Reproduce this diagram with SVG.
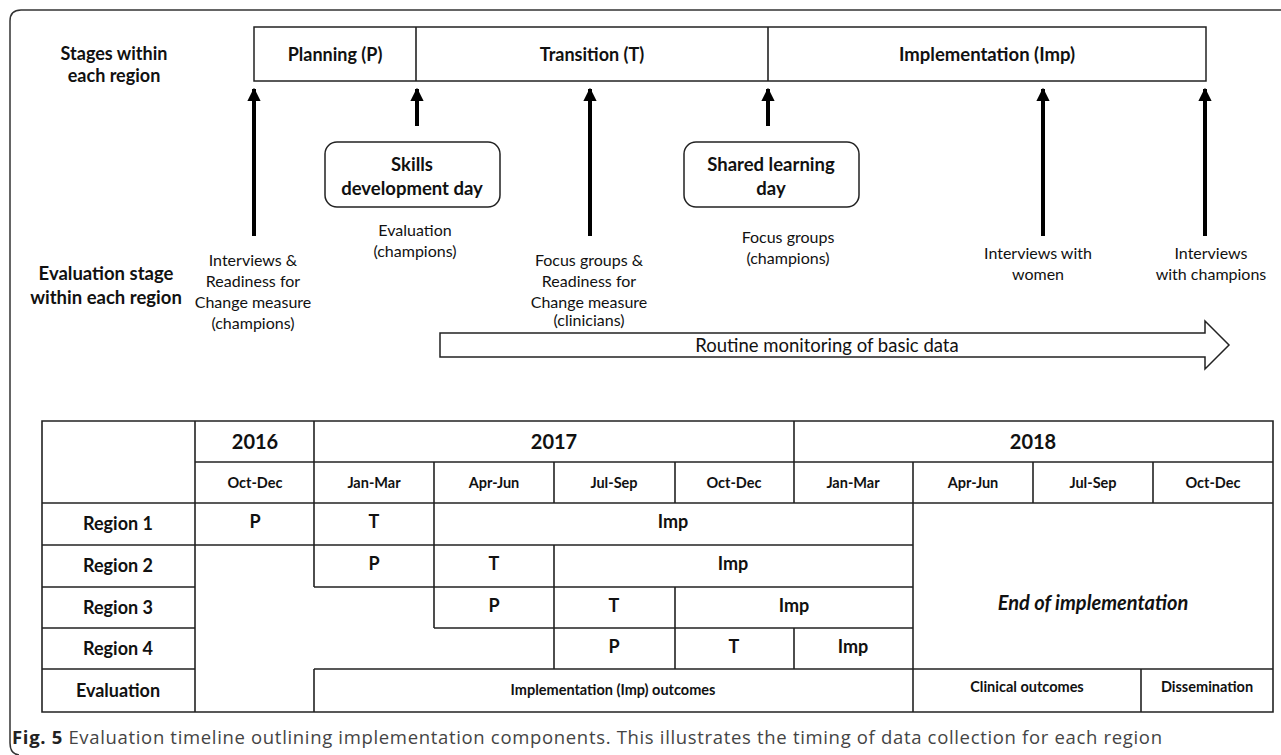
<svg xmlns="http://www.w3.org/2000/svg" width="1281" height="755" viewBox="0 0 1281 755">
<defs>
<style>
.frame{fill:none;stroke:#333;stroke-width:1.5}
.box{fill:#fff;stroke:#222;stroke-width:1.5}
.tl{stroke:#222;stroke-width:1.6;fill:none}
.arr{stroke:#000;stroke-width:4;fill:none;marker-end:url(#ah)}
.b{font-family:Lato,"Open Sans",sans-serif;font-weight:700;fill:#111;text-anchor:middle}
.r{font-family:Lato,"Open Sans",sans-serif;font-weight:400;fill:#111;text-anchor:middle}
.cap{font-family:"Open Sans","Noto Sans",sans-serif;font-size:18.5px;fill:#444}
</style>
<marker id="ah" viewBox="0 0 10 10" refX="9" refY="5" markerWidth="3.3" markerHeight="3.3" orient="auto" markerUnits="strokeWidth">
<path d="M0,0 L10,5 L0,10 Z" fill="#000"/>
</marker>
</defs>
<rect width="1281" height="755" fill="#fff"/>
<path class="frame" d="M1281,10 H21 Q10,10 10,21 V743 Q10,754 19,755"/>

<g id="stage-labels">
<text class="b" font-size="18" x="114" y="60">Stages within</text>
<text class="b" font-size="18" x="114" y="82">each  region</text>
<text class="b" font-size="18.5" x="106" y="280">Evaluation stage</text>
<text class="b" font-size="18.5" x="106" y="304">within each region</text>
</g>

<g id="stages-bar">
<rect class="box" x="254" y="27" width="952" height="54"/>
<line class="tl" x1="416" y1="27" x2="416" y2="81"/>
<line class="tl" x1="768" y1="27" x2="768" y2="81"/>
<text class="b" font-size="18" x="335" y="61">Planning (P)</text>
<text class="b" font-size="18" x="592" y="61">Transition (T)</text>
<text class="b" font-size="18.5" x="987" y="61">Implementation (Imp)</text>
</g>

<g id="skills-day">
<rect class="box" x="325" y="142" width="175" height="65" rx="12"/>
<text class="b" font-size="18.5" x="412" y="171">Skills</text>
<text class="b" font-size="18.5" x="412" y="195">development day</text>
</g>

<g id="shared-day">
<rect class="box" x="684" y="142" width="175" height="65" rx="12"/>
<text class="b" font-size="18.5" x="771" y="171">Shared learning</text>
<text class="b" font-size="18.5" x="771" y="195">day</text>
</g>

<g id="eval-labels">
<text class="r" font-size="16" x="415" y="236">Evaluation</text>
<text class="r" font-size="16" x="415" y="257">(champions)</text>
<text class="r" font-size="16" x="253" y="266">Interviews &amp;</text>
<text class="r" font-size="16" x="253" y="287">Readiness for</text>
<text class="r" font-size="16" x="253" y="308">Change measure</text>
<text class="r" font-size="16" x="253" y="329">(champions)</text>
<text class="r" font-size="16" x="589" y="266">Focus groups &amp;</text>
<text class="r" font-size="16" x="589" y="287">Readiness for</text>
<text class="r" font-size="16" x="589" y="308">Change measure</text>
<text class="r" font-size="16" x="589" y="326">(clinicians)</text>
<text class="r" font-size="16" x="788" y="243">Focus groups</text>
<text class="r" font-size="16" x="788" y="264">(champions)</text>
<text class="r" font-size="16" x="1038" y="259">Interviews with</text>
<text class="r" font-size="16" x="1038" y="280">women</text>
<text class="r" font-size="16" x="1211" y="259">Interviews</text>
<text class="r" font-size="16" x="1211" y="280">with champions</text>
</g>

<g id="routine-monitoring">
<path class="box" d="M440,333 H1205 V321 L1229,345 L1205,369 V357 H440 Z"/>
<text class="r" font-size="18.5" x="827" y="352">Routine monitoring of basic data</text>
</g>

<g id="connectors">
<line class="arr" x1="254" y1="236" x2="254" y2="89"/>
<line class="arr" x1="417" y1="126" x2="417" y2="89"/>
<line class="arr" x1="590" y1="236" x2="590" y2="89"/>
<line class="arr" x1="768" y1="126" x2="768" y2="89"/>
<line class="arr" x1="1043" y1="236" x2="1043" y2="89"/>
<line class="arr" x1="1205" y1="236" x2="1205" y2="89"/>
</g>

<g id="timeline-table">
<g class="tl">
<path d="M42,421 H1273 V712 H42 Z"/>
<path d="M195,462 H1273"/>
<path d="M42,503 H1273"/>
<path d="M42,545 H913"/>
<path d="M42,587 H195 M314,587 H913"/>
<path d="M42,628 H195 M434,628 H913"/>
<path d="M42,669 H195 M314,669 H1273"/>
<path d="M195,421 V712"/>
<path d="M314,421 V587 M314,669 V712"/>
<path d="M434,462 V628"/>
<path d="M554,462 V503 M554,545 V669"/>
<path d="M675,462 V503 M675,587 V669"/>
<path d="M794,421 V503 M794,628 V669"/>
<path d="M913,462 V712"/>
<path d="M1033,462 V503"/>
<path d="M1153,462 V503 M1141,669 V712"/>
</g>
<text class="b" font-size="20" x="255" y="449">2016</text>
<text class="b" font-size="20" x="554" y="449">2017</text>
<text class="b" font-size="20" x="1033" y="449">2018</text>
<g font-size="14.5">
<text class="b" x="255" y="488">Oct-Dec</text>
<text class="b" x="374" y="488">Jan-Mar</text>
<text class="b" x="494" y="488">Apr-Jun</text>
<text class="b" x="614" y="488">Jul-Sep</text>
<text class="b" x="734" y="488">Oct-Dec</text>
<text class="b" x="853" y="488">Jan-Mar</text>
<text class="b" x="973" y="488">Apr-Jun</text>
<text class="b" x="1093" y="488">Jul-Sep</text>
<text class="b" x="1213" y="488">Oct-Dec</text>
</g>
<g font-size="18">
<text class="b" x="118" y="530">Region 1</text>
<text class="b" x="118" y="572">Region 2</text>
<text class="b" x="118" y="614">Region 3</text>
<text class="b" x="118" y="655">Region 4</text>
<text class="b" x="118" y="697">Evaluation</text>
<text class="b" x="255" y="528">P</text>
<text class="b" x="374" y="528">T</text>
<text class="b" x="673" y="528">Imp</text>
<text class="b" x="374" y="570">P</text>
<text class="b" x="494" y="570">T</text>
<text class="b" x="733" y="570">Imp</text>
<text class="b" x="494" y="612">P</text>
<text class="b" x="614" y="612">T</text>
<text class="b" x="794" y="612">Imp</text>
<text class="b" x="614" y="653">P</text>
<text class="b" x="734" y="653">T</text>
<text class="b" x="853" y="653">Imp</text>
</g>
<text class="b" font-size="20" font-style="italic" x="1093" y="610">End of implementation</text>
<g font-size="14.5">
<text class="b" x="613" y="695">Implementation (Imp) outcomes</text>
<text class="b" x="1027" y="692">Clinical outcomes</text>
<text class="b" x="1207" y="692">Dissemination</text>
</g>
</g>

<g id="caption">
<text class="cap" x="12" y="744" textLength="1150" lengthAdjust="spacing"><tspan font-weight="700" fill="#222">Fig. 5</tspan> Evaluation timeline outlining implementation components. This illustrates the timing of data collection for each region</text>
</g>
</svg>
